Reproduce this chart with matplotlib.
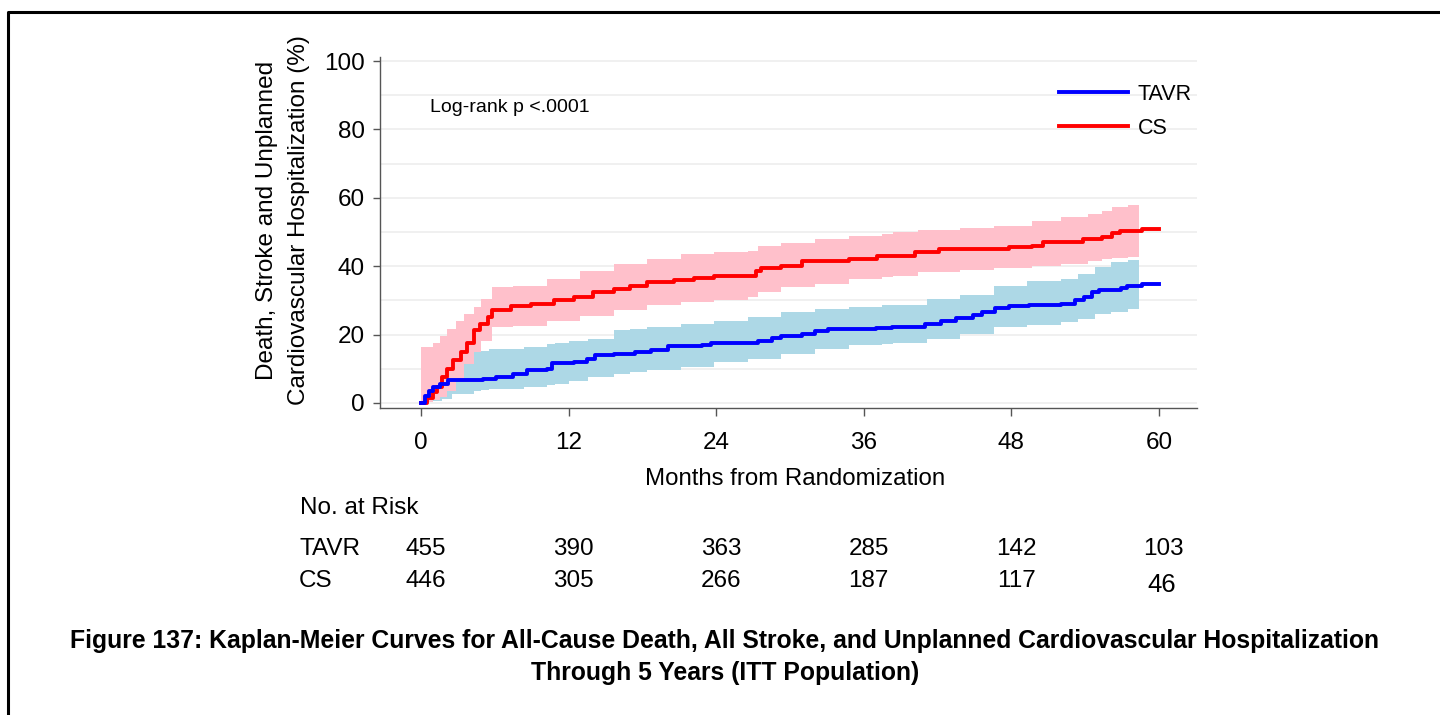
import numpy as np
import matplotlib
matplotlib.use('Agg')
import matplotlib.pyplot as plt
import matplotlib.transforms as mtransforms
from matplotlib.lines import Line2D

plt.rcParams['font.family'] = ['Liberation Sans', 'DejaVu Sans']

# KM estimate, TAVR arm (months, cumulative %)
tavr_t = [0, 0.3, 0.6, 1.0, 1.5, 2.2, 5.0, 6.1, 7.5, 8.6, 10.2, 10.6, 12.4, 13.5, 14.1,
          15.7, 17.4, 18.7, 20.1, 22.8, 23.6, 27.4, 28.5, 29.3, 31.0, 32.0, 33.1, 37.0,
          38.3, 41.0, 42.3, 43.5, 44.9, 45.6, 46.7, 47.8, 49.4, 52.0, 53.2, 53.9, 54.6,
          55.1, 56.9, 57.4, 58.6, 60.0]
tavr_y = [0, 2.0, 3.5, 4.5, 5.5, 6.6, 7.1, 7.7, 8.5, 9.5, 10.0, 11.6, 11.9, 12.9, 13.9,
          14.4, 14.8, 15.5, 16.5, 16.8, 17.5, 18.2, 18.9, 19.7, 20.2, 21.0, 21.5, 22.0,
          22.2, 23.1, 24.1, 24.9, 25.7, 26.5, 27.8, 28.2, 28.5, 29.0, 30.1, 31.1, 32.4,
          33.0, 33.6, 34.3, 34.8, 34.8]

# KM estimate, CS arm
cs_t = [0, 0.5, 1.0, 1.3, 1.7, 2.1, 2.6, 3.2, 3.7, 4.3, 4.8, 5.4, 5.8, 7.3, 8.9, 10.8,
        12.4, 14.0, 15.7, 17.0, 18.4, 20.6, 22.2, 23.8, 27.2, 27.6, 29.3, 31.0, 34.8,
        37.1, 40.2, 42.1, 47.8, 49.7, 50.6, 53.8, 55.4, 56.2, 56.8, 58.6, 60.0]
cs_y = [0, 1.5, 3.2, 4.6, 7.5, 10.0, 12.5, 14.8, 17.5, 21.2, 23.2, 25.1, 27.2, 28.2, 29.0,
        30.1, 31.1, 32.4, 33.3, 34.3, 35.3, 36.0, 36.6, 37.2, 38.5, 39.6, 40.1, 41.4,
        42.1, 43.1, 44.0, 45.0, 45.5, 46.0, 47.2, 47.9, 48.6, 49.6, 50.4, 50.9, 50.9]

# 95% confidence bands
tavr_ci_t = [0, 0.5, 1.7, 2.5, 4.3, 4.9, 5.5, 8.4, 10.2, 10.9, 12.0, 13.6, 15.7, 17.0,
             18.4, 21.1, 23.8, 26.6, 29.3, 32.0, 34.8, 37.5, 38.4, 41.1, 43.8, 46.6,
             49.3, 52.0, 53.4, 54.8, 56.1, 57.5, 58.4]
tavr_lo = [0, 0.5, 1.2, 2.7, 3.5, 3.8, 4.0, 4.6, 5.2, 5.6, 6.5, 7.5, 8.5, 9.0, 9.5, 10.5,
           11.9, 12.9, 14.4, 15.8, 16.8, 17.3, 17.5, 18.7, 20.2, 22.1, 22.9, 23.6, 24.6,
           26.0, 26.7, 27.5, 28.0]
tavr_hi = [15.0, 15.0, 15.0, 15.0, 15.3, 15.3, 15.8, 16.3, 17.3, 17.5, 18.0, 18.7, 21.2,
           21.6, 22.1, 23.1, 24.1, 25.1, 26.5, 27.5, 28.0, 28.5, 28.5, 30.4, 31.7, 34.3,
           35.8, 36.3, 37.7, 39.9, 41.1, 41.9, 41.9]

cs_ci_t = [0, 0.6, 1.0, 1.5, 2.1, 2.8, 3.5, 4.3, 4.9, 5.8, 7.5, 10.2, 12.9, 15.7, 18.4,
           21.1, 23.8, 26.6, 27.4, 29.3, 32.0, 34.8, 37.5, 38.4, 40.4, 43.8, 46.6, 49.7,
           52.0, 54.2, 55.4, 56.2, 57.5, 58.4]
cs_lo = [0, 0.3, 0.8, 1.8, 3.6, 7.0, 11.4, 15.0, 18.2, 22.1, 22.6, 24.1, 25.5, 27.2, 28.5,
         29.4, 30.1, 30.9, 32.4, 33.8, 34.8, 36.3, 36.9, 37.2, 38.2, 38.9, 39.5, 40.1,
         40.6, 41.6, 42.0, 42.4, 42.8, 42.8]
cs_hi = [16.3, 16.3, 17.5, 19.5, 21.5, 24.0, 26.0, 28.0, 30.5, 33.8, 34.3, 36.3, 38.7,
         40.6, 42.1, 43.6, 44.0, 44.5, 46.0, 46.9, 47.9, 48.9, 49.4, 49.9, 50.6, 51.3,
         51.8, 53.1, 54.3, 55.2, 56.0, 57.4, 57.9, 57.9]

risk_months = [0, 12, 24, 36, 48, 60]
risk_tavr = ['455', '390', '363', '285', '142', '103']
risk_cs = ['446', '305', '266', '187', '117', '46']

W, H = 1440, 715
fig = plt.figure(figsize=(W / 100, H / 100), dpi=100)
ax = fig.add_axes([380 / W, 1 - 408 / H, (1197 - 380) / W, (408 - 57) / H])

# bands first, pink over blue
ax.fill_between(tavr_ci_t, tavr_lo, tavr_hi, step='post', color='#add8e6', lw=0, zorder=2)
ax.fill_between(cs_ci_t, cs_lo, cs_hi, step='post', color='#ffc0cb', lw=0, zorder=3)
ax.step(tavr_t, tavr_y, where='post', color='#0000ff', lw=2.8, zorder=5, label='TAVR')
ax.step(cs_t, cs_y, where='post', color='#ff0000', lw=2.8, zorder=4, label='CS')

ax.set_xlim(-3.35, 63.1)
ax.set_ylim(-1.5, 101.2)
ax.set_xticks(risk_months)
ax.set_yticks(range(0, 101, 20))
ax.set_yticks(range(0, 101, 10), minor=True)
ax.tick_params(axis='y', which='minor', length=0)
ax.grid(axis='y', which='both', color='#ececec', lw=1.1, zorder=0)
ax.set_axisbelow(True)
for s in ['top', 'right']:
    ax.spines[s].set_visible(False)
for s in ['left', 'bottom']:
    ax.spines[s].set_color('#555555')
    ax.spines[s].set_linewidth(1.0)
ax.tick_params(axis='x', length=6, width=1, color='#555555', labelsize=17.5, pad=11)
ax.tick_params(axis='y', which='major', length=5, width=1, color='#555555', labelsize=17.5, pad=6)
ax.set_xlabel('Months from Randomization', fontsize=17.3)
ax.xaxis.set_label_coords((795 - 380) / (1197 - 380), -0.172)

fig.text(283 / W, 1 - 220 / H,
         'Death, Stroke and Unplanned\nCardiovascular Hospitalization (%)',
         rotation=90, ha='center', va='center', multialignment='center',
         fontsize=17.5, linespacing=1.6)

fig.text(430 / W, 1 - 107 / H, 'Log-rank p <.0001', fontsize=14, va='center')

ax.legend(loc='upper left', bbox_to_anchor=(1059 / W, 1 - 84 / H),
          bbox_transform=fig.transFigure, frameon=False, fontsize=15.5,
          handlelength=3.2, handletextpad=0.45, labelspacing=0.6,
          borderpad=0, borderaxespad=0)

# number at risk table
trans = mtransforms.blended_transform_factory(ax.transData, fig.transFigure)
fig.text(300 / W, 1 - 508 / H, 'No. at Risk', fontsize=17.5, va='center')
fig.text(299 / W, 1 - 549 / H, 'TAVR', fontsize=17.5, va='center')
fig.text(299 / W, 1 - 581 / H, 'CS', fontsize=17.5, va='center')
for m, a, b in zip(risk_months, risk_tavr, risk_cs):
    ax.text(m + 0.4, 1 - 549 / H, a, transform=trans, fontsize=17.5, ha='center', va='center')
    if b == '46':
        ax.text(m + 0.2, 1 - 585 / H, b, transform=trans, fontsize=18.5, ha='center', va='center')
    else:
        ax.text(m + 0.4, 1 - 581 / H, b, transform=trans, fontsize=17.5, ha='center', va='center')

fig.text(725 / W, 1 - 657 / H,
         'Figure 137: Kaplan-Meier Curves for All-Cause Death, All Stroke, and Unplanned Cardiovascular Hospitalization\nThrough 5 Years (ITT Population)',
         ha='center', va='center', multialignment='center', fontsize=17.8,
         fontweight='bold', linespacing=1.4)

# page frame (top and left edges)
fig.add_artist(Line2D([8 / W, 8 / W, 1.0], [0.0, 1 - 11.5 / H, 1 - 11.5 / H],
                      transform=fig.transFigure, color='black', lw=2.2))

fig.savefig('out.png', dpi=100)
